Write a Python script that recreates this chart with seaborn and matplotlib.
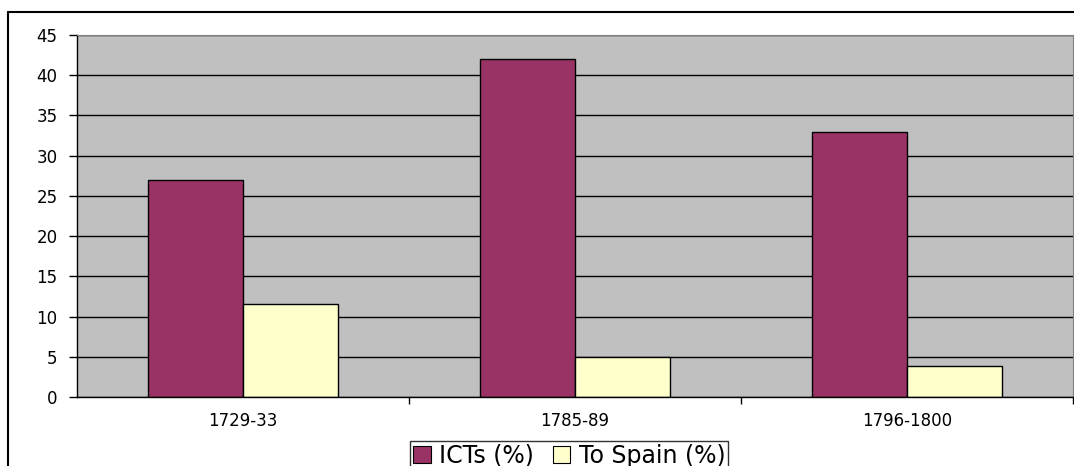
import matplotlib
matplotlib.use("Agg")
import matplotlib.pyplot as plt
import seaborn as sns
import pandas as pd
from matplotlib.lines import Line2D

periods = ["1729-33", "1785-89", "1796-1800"]
icts = [27, 42, 33]
to_spain = [11.6, 5.0, 3.8]
series_names = ["ICTs (%)", "To Spain (%)"]
colors = ["#993366", "#FFFFCC"]

df = pd.DataFrame({
    "period": periods * 2,
    "value": icts + to_spain,
    "series": [series_names[0]] * 3 + [series_names[1]] * 3,
})

sns.set_theme(style="white")
plt.rcParams["font.family"] = ["DejaVu Sans"]
plt.rcParams["text.color"] = "black"
plt.rcParams["xtick.color"] = "black"
plt.rcParams["ytick.color"] = "black"
plt.rcParams["xtick.labelcolor"] = "black"
plt.rcParams["ytick.labelcolor"] = "black"

fig = plt.figure(figsize=(10.74, 4.66), dpi=100)
ax = fig.add_axes([77/1074, 1-397/466, 996/1074, 362/466])
ax.set_facecolor("#C0C0C0")

sns.barplot(data=df, x="period", y="value", hue="series", palette=colors,
            width=0.57, edgecolor="black", linewidth=1.0, ax=ax, legend=False,
            saturation=1)

ax.set_ylim(0, 45)
ax.set_xlim(-0.5, 2.5)
ax.set_yticks(range(0, 46, 5))
ax.yaxis.grid(True, color="black", linewidth=1.0)
ax.set_axisbelow(True)
ax.set_xlabel("")
ax.set_ylabel("")
for s in ["top", "right"]:
    ax.spines[s].set_visible(True)
    ax.spines[s].set_color("#808080")
    ax.spines[s].set_linewidth(0.8)
for s in ["left", "bottom"]:
    ax.spines[s].set_color("black")
    ax.spines[s].set_linewidth(1.0)

ax.tick_params(axis="y", which="major", left=True, length=6, width=1, color="black",
               labelsize=12, pad=8, labelcolor="black")
ax.tick_params(axis="x", which="major", bottom=False, labelsize=12, pad=5,
               labelcolor="black")
ax.set_xticks([0.5, 1.5, 2.5], minor=True)
ax.tick_params(axis="x", which="minor", bottom=True, length=5, width=1, color="black")

handles = [plt.Rectangle((0, 0), 1, 1, facecolor=c, edgecolor="black", linewidth=0.8)
           for c in colors]
leg = fig.legend(handles, series_names, loc="upper left",
                 bbox_to_anchor=(410/1074, 1-441/466), ncol=2, fontsize=17,
                 frameon=True, fancybox=False, handlelength=0.75, handleheight=0.75,
                 handletextpad=0.35, columnspacing=0.8, borderpad=0.12,
                 borderaxespad=0, labelcolor="black")
leg.get_frame().set_edgecolor("black")
leg.get_frame().set_linewidth(1.0)

# outer chart border (left and top visible)
fig.add_artist(Line2D([8/1074, 8/1074], [0, 1-12/466], transform=fig.transFigure,
                      color="black", linewidth=1.5))
fig.add_artist(Line2D([8/1074, 1], [1-12/466, 1-12/466], transform=fig.transFigure,
                      color="black", linewidth=1.5))

fig.savefig("out.png", dpi=100)
